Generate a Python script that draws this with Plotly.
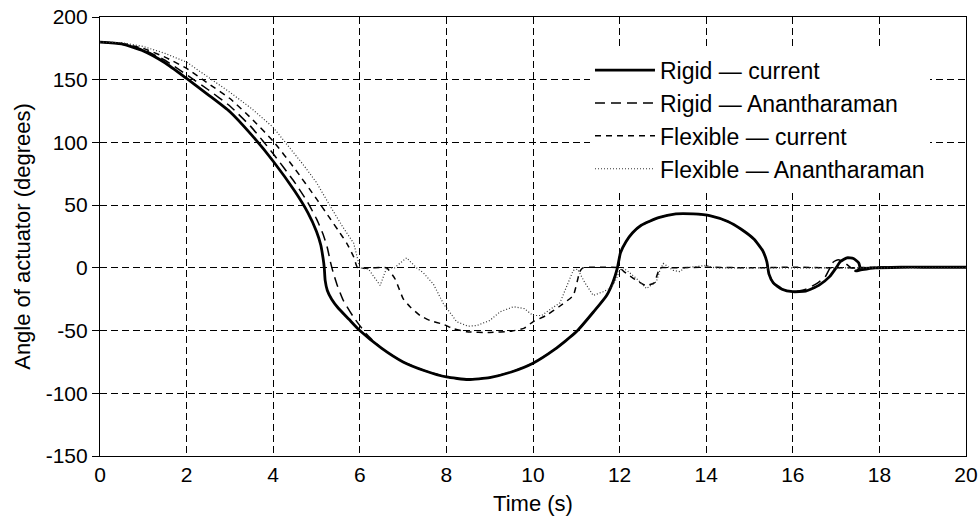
import plotly.graph_objects as go

# ---- data ----
series_names = ["Rigid \u2014 current", "Rigid \u2014 Anantharaman",
                "Flexible \u2014 current", "Flexible \u2014 Anantharaman"]

rigid_cur_t = [0.0, 0.5, 1.0, 1.5, 2.0, 2.5, 3.0, 3.5, 4.0, 4.5, 4.8, 5.0, 5.1, 5.15, 5.18,
               5.2, 5.25, 5.35, 5.5, 5.75, 6.0, 6.5, 7.0, 7.5, 8.0, 8.5, 9.0, 9.5, 10.0,
               10.5, 11.0, 11.4, 11.7, 11.85, 11.95, 12.02, 12.15, 12.3, 12.5, 12.9, 13.3,
               13.7, 14.1, 14.5, 14.8, 15.1, 15.3, 15.4, 15.45, 15.55, 15.75, 16.0, 16.3,
               16.6, 16.85, 17.0, 17.1, 17.25, 17.4, 17.52, 17.55, 17.5, 17.45, 17.6,
               17.9, 18.5, 19.0, 20.0]
rigid_cur_v = [180, 178.5, 173, 163.5, 151, 138, 124.5, 106, 85, 61, 44, 29, 18, 8, 0,
               -10, -18, -25, -32, -41, -50, -64, -75, -82, -87, -89, -87.5, -83, -76,
               -65, -51, -35, -22, -11, 0, 12, 21, 28, 34, 40, 43,
               43, 41.5, 37, 31, 23, 14, 5, -5, -12, -17, -19, -18.5,
               -14, -7, 0, 5, 8, 7.5, 4, 0, -2, -2.5, -1.5,
               0, 0.5, 0.5, 0.5]

rigid_anan_t = [0.0, 0.5, 1.0, 1.5, 2.0, 2.5, 3.0, 3.5, 4.0, 4.5, 4.8, 5.0, 5.15, 5.25,
                5.32, 5.38, 5.47, 5.62, 5.85, 6.16, 6.5, 7.0, 7.5, 8.0, 8.5, 9.0, 9.5,
                10.0, 10.5, 11.0, 11.4, 11.7, 11.85, 11.95, 12.02, 12.15, 12.3, 12.5,
                12.9, 13.3, 13.7, 14.1, 14.5, 14.8, 15.1, 15.3, 15.4, 15.45, 15.55, 15.75,
                16.0, 16.3, 16.55, 16.75, 16.93, 17.05, 17.2, 17.35, 17.6, 18.0, 19.0, 20.0]
rigid_anan_v = [180, 178.5, 174, 165.5, 154, 142, 129, 112, 91, 68, 52, 39, 27, 16,
                5, -3, -13, -26, -39, -53, -64, -75, -82, -87, -89, -87.5, -83,
                -76, -65, -51, -35, -22, -11, 0, 12, 21, 28, 34,
                40, 43, 43, 41.5, 37, 31, 23, 14, 5, -5, -12, -17,
                -19, -17, -12.5, -7, 4.5, 6.5, 4, 0, 0, 0.5, 0.5, 0.5]

flex_cur_t = [0.0, 0.5, 1.0, 1.5, 2.0, 2.5, 3.0, 3.5, 4.0, 4.5, 5.0, 5.3, 5.5, 5.7,
              5.86, 5.95, 6.3, 6.62, 6.81, 6.9, 7.0, 7.16, 7.39, 7.62, 7.93, 8.16,
              8.47, 9.0, 9.5, 9.8, 10.0, 10.3, 10.6, 10.93, 11.08, 11.15, 12.0, 12.1,
              12.3, 12.6, 12.8, 12.93, 13.2, 14.0, 15.0, 16.0, 17.0, 18.0, 19.0, 20.0]
flex_cur_v = [180, 179, 175, 168, 159, 147, 135, 119, 101, 79, 55, 40, 30, 19.6,
              8.7, 0, 0, 0, -8.5, -16, -24.5, -31, -38, -42, -45, -48.5,
              -51, -51.5, -50.5, -48, -43, -38, -31, -22, -3, 0, 0, -3,
              -8, -14, -12, 0, 0, 0.5, 0, 0.5, 0, 0.5, 0.5, 0.5]

flex_anan_t = [0.0, 0.5, 1.0, 1.5, 2.0, 2.6, 3.0, 3.5, 4.0, 4.7, 5.0, 5.32, 5.6, 5.86,
               6.0, 6.2, 6.47, 6.62, 6.8, 7.08, 7.31, 7.47, 7.7, 7.93, 8.24, 8.5, 8.7,
               9.0, 9.24, 9.55, 9.8, 10.0, 10.2, 10.4, 10.62, 10.93, 11.03, 11.2, 11.39,
               11.62, 11.8, 11.93, 12.0, 12.08, 12.2, 12.39, 12.62, 12.85, 12.93, 13.01,
               13.24, 13.39, 13.5, 14.0, 14.2, 15.0, 16.0, 17.0, 18.0, 19.0, 20.0]
flex_anan_v = [180, 179.5, 176.5, 171, 164, 150, 140, 127, 112, 82, 68, 49, 33, 19.6,
               0, -1, -14, 0, 0, 8, 0, -4, -13, -28.5, -43, -46.5, -46,
               -42, -35, -31, -32.5, -38, -38, -33, -28, -2, -1, -12, -22,
               -19, -16, -8.5, -2, 0, -3, -8.5, -16.5, -11, -2, 3.5,
               -2, -3, 0, 2, 0, 0, 0, 0, 0, 0, 0]

x_ticks = [0, 2, 4, 6, 8, 10, 12, 14, 16, 18, 20]
y_ticks = [-150, -100, -50, 0, 50, 100, 150, 200]

FONT = "Liberation Sans, Arial, Helvetica, sans-serif"

fig = go.Figure()
fig.add_trace(go.Scatter(x=rigid_cur_t, y=rigid_cur_v, mode="lines", name=series_names[0],
                         line=dict(color="black", width=2.8, shape="spline", smoothing=0.5)))
fig.add_trace(go.Scatter(x=rigid_anan_t, y=rigid_anan_v, mode="lines", name=series_names[1],
                         line=dict(color="black", width=1.5, dash="10px,6px", shape="spline", smoothing=0.5)))
fig.add_trace(go.Scatter(x=flex_cur_t, y=flex_cur_v, mode="lines", name=series_names[2],
                         line=dict(color="black", width=1.5, dash="6px,5px", shape="spline", smoothing=0.4)))
fig.add_trace(go.Scatter(x=flex_anan_t, y=flex_anan_v, mode="lines", name=series_names[3],
                         line=dict(color="#333333", width=1.2, dash="1px,2px")))

grid = dict(showgrid=True, gridcolor="#000000", gridwidth=1, griddash="7px,4px")

fig.update_xaxes(range=[0, 20], tickvals=x_ticks, ticktext=[str(v) for v in x_ticks],
                 showline=True, linecolor="black", linewidth=1.2, mirror=True,
                 ticks="", zeroline=False,
                 tickfont=dict(family=FONT, size=21, color="black"),
                 title=dict(text="Time (s)", font=dict(family=FONT, size=22, color="black"), standoff=10),
                 **grid)
fig.update_yaxes(range=[-150, 200], tickvals=y_ticks, ticktext=[str(v) for v in y_ticks],
                 showline=True, linecolor="black", linewidth=1.2, mirror=True,
                 ticks="outside", ticklen=7, tickcolor="black", zeroline=False,
                 tickfont=dict(family=FONT, size=21, color="black"),
                 title=dict(text="Angle of actuator (degrees)", font=dict(family=FONT, size=22, color="black"), standoff=8),
                 **grid)

fig.update_layout(
    width=978, height=523,
    margin=dict(l=100, r=12, t=17, b=67, autoexpand=False),
    paper_bgcolor="white", plot_bgcolor="white",
    showlegend=True,
    legend=dict(x=0.5658, y=0.928, xanchor="left", yanchor="top",
                bgcolor="white", borderwidth=0, itemwidth=60,
                font=dict(family=FONT, size=23, color="black"),
                tracegroupgap=0),
)

fig.write_html("out.html")
